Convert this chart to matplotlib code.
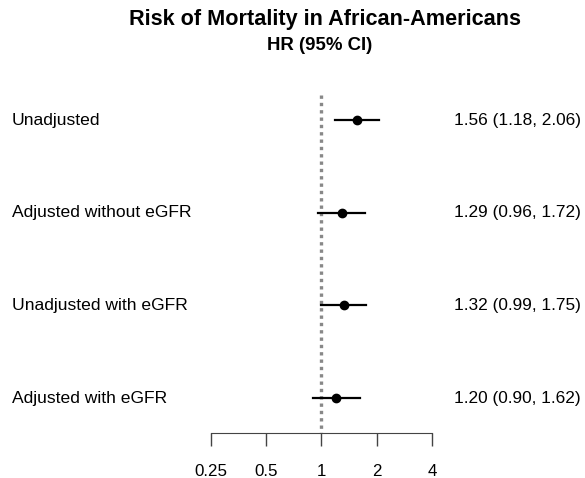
import matplotlib.pyplot as plt
from matplotlib import transforms
import numpy as np

plt.rcParams['font.family'] = ['Liberation Sans', 'DejaVu Sans']

# forest plot data
labels = ["Unadjusted", "Adjusted without eGFR", "Unadjusted with eGFR", "Adjusted with eGFR"]
hr = [1.56, 1.29, 1.32, 1.20]
lower = [1.18, 0.96, 0.99, 0.90]
upper = [2.06, 1.72, 1.75, 1.62]
ticks = [0.25, 0.5, 1, 2, 4]
tick_labels = ["0.25", "0.5", "1", "2", "4"]

W, H = 585, 478
fig = plt.figure(figsize=(W / 100, H / 100), dpi=100)

# axes: full width, bottom spine at y=433px
ax = fig.add_axes([0, (H - 433) / H, 1, 433 / H])
ax.set_xscale('log', base=2)
px = (432 - 211) / 4.0
ax.set_xlim(2 ** (-2 - 211 / px), 2 ** (2 + (W - 432) / px))

row_px = 92.7
y = np.arange(len(labels))
ax.set_ylim((433 - 120) / row_px, -120 / row_px)

# reference line at HR = 1
ax.vlines(1, -25 / row_px, (433 - 120) / row_px, colors='#888888',
          linestyles=(0, (1, 1.2)), linewidth=2.4, zorder=1)

tr = transforms.blended_transform_factory(fig.transFigure, ax.transData)
for i in range(len(labels)):
    ax.plot([lower[i], upper[i]], [y[i], y[i]], color='black', lw=1.6, zorder=2)
    ax.plot(hr[i], y[i], 'o', color='black', ms=6, zorder=3)
    ax.text(12 / W, y[i], labels[i], transform=tr,
            ha='left', va='center', fontsize=12.6)
    ax.text(454 / W, y[i], "%.2f (%.2f, %.2f)" % (hr[i], lower[i], upper[i]),
            transform=tr, ha='left', va='center', fontsize=12.4)

for s in ['top', 'left', 'right']:
    ax.spines[s].set_visible(False)
ax.spines['bottom'].set_bounds(0.25, 4)
ax.spines['bottom'].set_color('#444444')
ax.set_xticks(ticks)
ax.set_xticklabels(tick_labels, fontsize=12.2)
ax.minorticks_off()
ax.tick_params(axis='x', direction='out', length=9, width=1, color='#444444', pad=13)
ax.set_yticks([])
ax.patch.set_alpha(0)

fig.text(325 / W, 1 - 20 / H, "Risk of Mortality in African-Americans",
         ha='center', va='center', fontsize=15.6, fontweight='bold')
fig.text(320 / W, 1 - 46 / H, "HR (95% CI)",
         ha='center', va='center', fontsize=13.4, fontweight='bold')

fig.savefig("out.png", dpi=100)
